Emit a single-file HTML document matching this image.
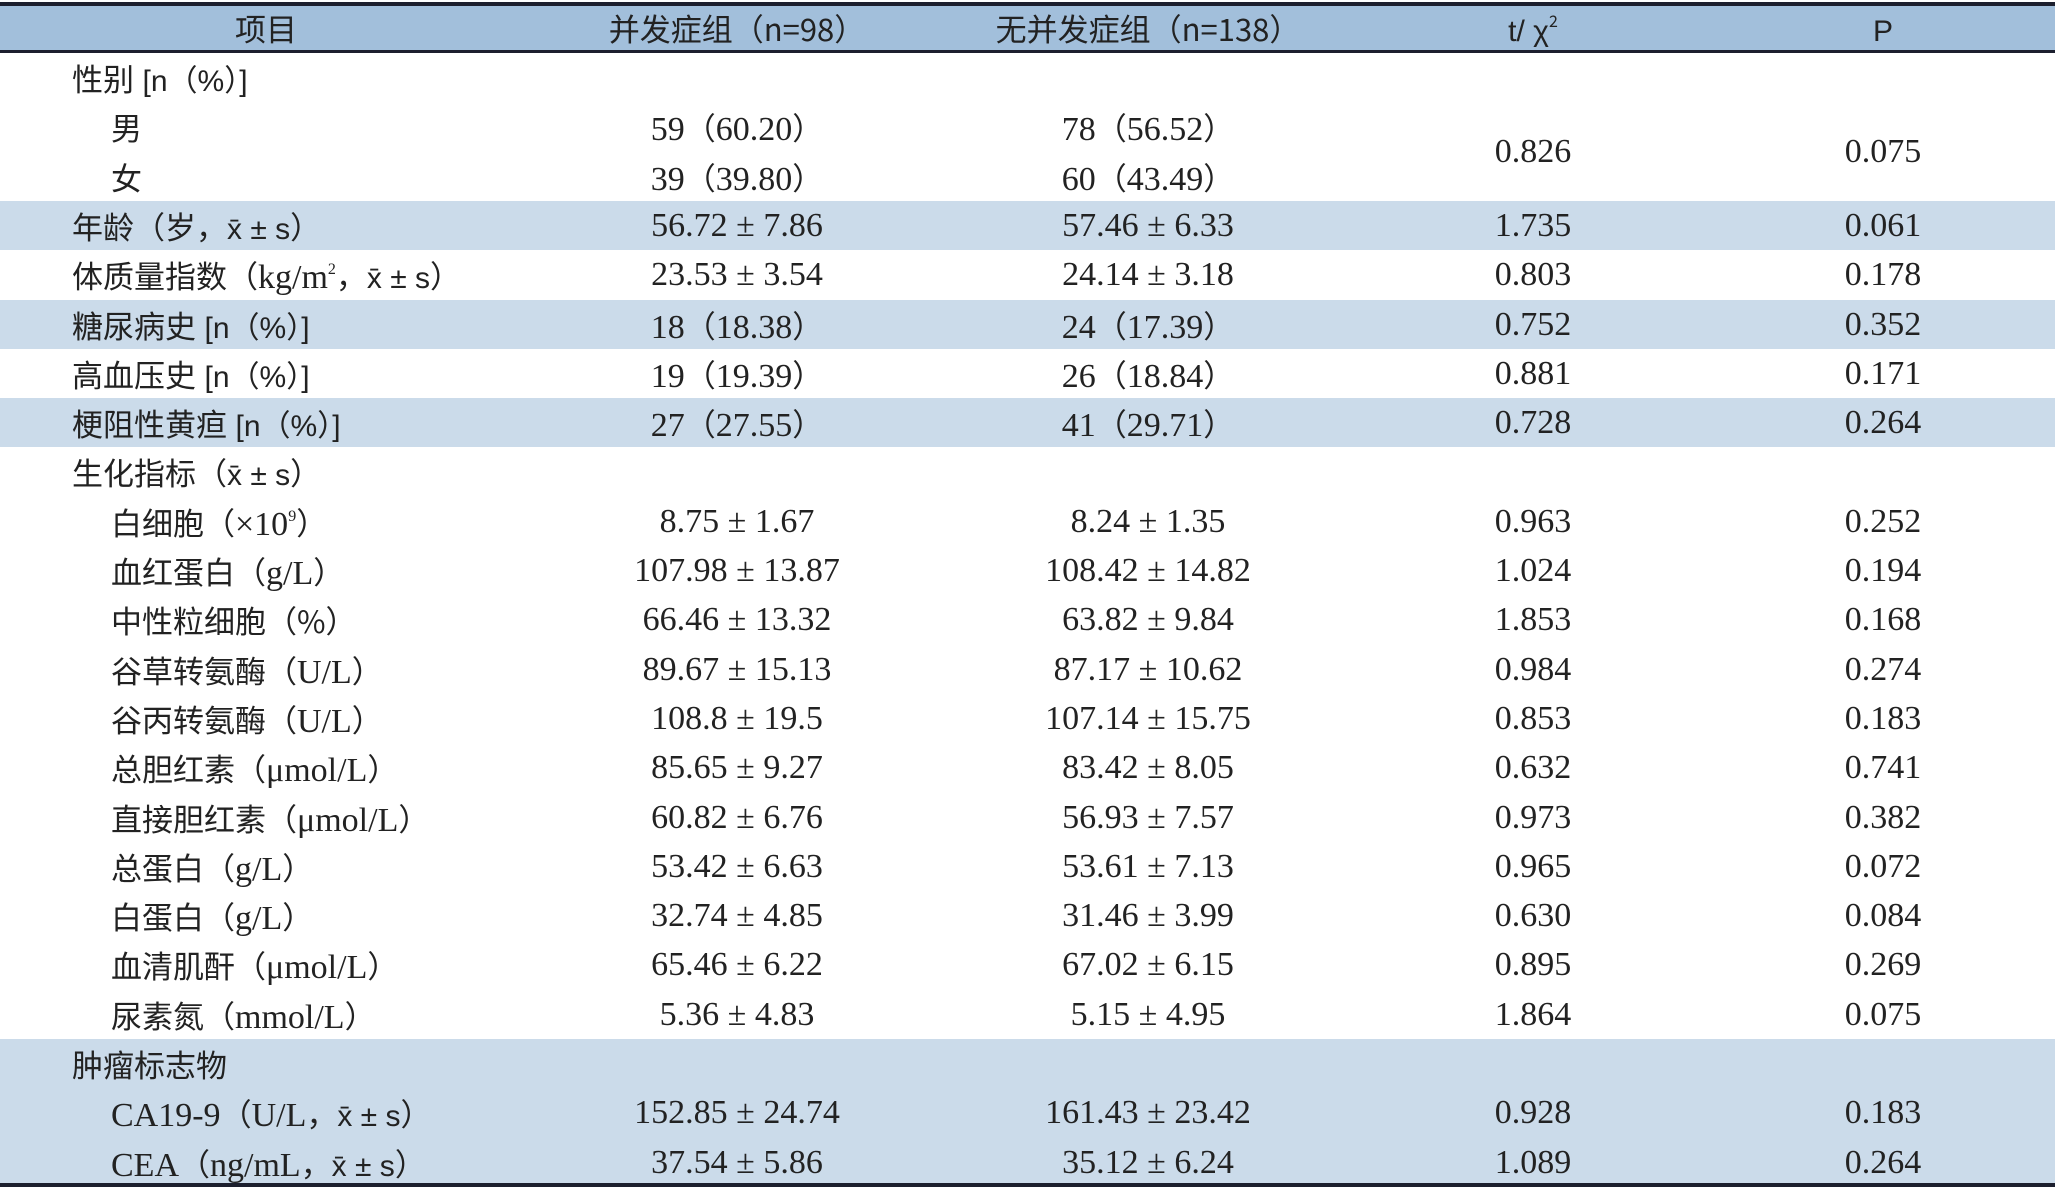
<!DOCTYPE html>
<html><head><meta charset="utf-8">
<style>
body{margin:0;width:2055px;height:1196px;background:#fff;overflow:hidden;font-family:"Liberation Serif","Noto Sans CJK SC",serif;color:#222;}
.t{position:absolute;left:0;top:0;width:2055px;}
.r{position:absolute;left:0;width:2055px;height:49.3px;}
.r.b{background:#cbdbea;}
.c{position:absolute;top:0;height:49.3px;line-height:49.3px;font-size:34px;white-space:nowrap;transform:translateX(-50%);}
.l{position:absolute;top:0;height:49.3px;line-height:49.3px;font-size:34px;white-space:nowrap;}
.cn{font-family:"Noto Sans CJK SC",sans-serif;font-size:31px;}
.s{font-family:"Liberation Sans",sans-serif;font-size:30px;}
sup{font-size:16px;vertical-align:14px;line-height:0;}
.hd{position:absolute;left:0;top:2px;width:2055px;height:51px;background:#a2bfdb;border-top:4px solid #1c1f2e;border-bottom:3px solid #1c1f2e;box-sizing:border-box;}
.hd .c{height:44px;line-height:44px;font-size:31px;font-family:"Noto Sans CJK SC",sans-serif;}
</style></head><body>
<div class="t">
<div class="hd">
<div class="c" style="left:266px">项目</div>
<div class="c" style="left:737px">并发症组（n=98）</div>
<div class="c" style="left:1148px">无并发症组（n=138）</div>
<div class="c" style="left:1533px"><span class="s">t/ χ</span><sup>2</sup></div>
<div class="c" style="left:1883px"><span class="s">P</span></div>
</div>
<div id="body"></div>
<div style="position:absolute;left:0;top:1183px;width:2055px;height:4px;background:#1c1f2e"></div>
</div>
<script>
const X='<span class="s">x̄ ± s</span>';
const labels=['<span class="cn">性别</span> <span class="s">[n（%）]</span>','<span class="cn">男</span>','<span class="cn">女</span>',
'<span class="cn">年龄（岁，</span>'+X+'<span class="cn">）</span>',
'<span class="cn">体质量指数（</span>kg/m<sup>2</sup><span class="cn">，</span>'+X+'<span class="cn">）</span>',
'<span class="cn">糖尿病史</span> <span class="s">[n（%）]</span>','<span class="cn">高血压史</span> <span class="s">[n（%）]</span>','<span class="cn">梗阻性黄疸</span> <span class="s">[n（%）]</span>',
'<span class="cn">生化指标（</span>'+X+'<span class="cn">）</span>',
'<span class="cn">白细胞（</span>×10<sup>9</sup><span class="cn">）</span>','<span class="cn">血红蛋白（</span>g/L<span class="cn">）</span>','<span class="cn">中性粒细胞（%）</span>',
'<span class="cn">谷草转氨酶（</span>U/L<span class="cn">）</span>','<span class="cn">谷丙转氨酶（</span>U/L<span class="cn">）</span>','<span class="cn">总胆红素（</span>μmol/L<span class="cn">）</span>',
'<span class="cn">直接胆红素（</span>μmol/L<span class="cn">）</span>','<span class="cn">总蛋白（</span>g/L<span class="cn">）</span>','<span class="cn">白蛋白（</span>g/L<span class="cn">）</span>',
'<span class="cn">血清肌酐（</span>μmol/L<span class="cn">）</span>','<span class="cn">尿素氮（</span>mmol/L<span class="cn">）</span>','<span class="cn">肿瘤标志物</span>',
'CA19-9<span class="cn">（</span>U/L<span class="cn">，</span>'+X+'<span class="cn">）</span>','CEA<span class="cn">（</span>ng/mL<span class="cn">，</span>'+X+'<span class="cn">）</span>'];
const indent=[0,1,1,0,0,0,0,0,0,1,1,1,1,1,1,1,1,1,1,1,0,1,1];
const banded=[0,0,0,1,0,1,0,1,0,0,0,0,0,0,0,0,0,0,0,0,1,1,1];
const comp=['','59（60.20）','39（39.80）','56.72 ± 7.86','23.53 ± 3.54','18（18.38）','19（19.39）','27（27.55）','','8.75 ± 1.67','107.98 ± 13.87','66.46 ± 13.32','89.67 ± 15.13','108.8 ± 19.5','85.65 ± 9.27','60.82 ± 6.76','53.42 ± 6.63','32.74 ± 4.85','65.46 ± 6.22','5.36 ± 4.83','','152.85 ± 24.74','37.54 ± 5.86'];
const noComp=['','78（56.52）','60（43.49）','57.46 ± 6.33','24.14 ± 3.18','24（17.39）','26（18.84）','41（29.71）','','8.24 ± 1.35','108.42 ± 14.82','63.82 ± 9.84','87.17 ± 10.62','107.14 ± 15.75','83.42 ± 8.05','56.93 ± 7.57','53.61 ± 7.13','31.46 ± 3.99','67.02 ± 6.15','5.15 ± 4.95','','161.43 ± 23.42','35.12 ± 6.24'];
const stat=['','0.826','','1.735','0.803','0.752','0.881','0.728','','0.963','1.024','1.853','0.984','0.853','0.632','0.973','0.965','0.630','0.895','1.864','','0.928','1.089'];
const pval=['','0.075','','0.061','0.178','0.352','0.171','0.264','','0.252','0.194','0.168','0.274','0.183','0.741','0.382','0.072','0.084','0.269','0.075','','0.183','0.264'];
const body=document.getElementById('body');
const top0=53,rh=49.3;
function fmt(s){return s.replace(/（/g,'<span class="cn">（</span>').replace(/）/g,'<span class="cn">）</span>');}
for(let i=0;i<labels.length;i++){
 const r=document.createElement('div');
 r.className='r'+(banded[i]?' b':'');
 r.style.top=(top0+i*rh)+'px';
 
 
 let h='<div class="l" style="left:'+(indent[i]?111:72)+'px">'+labels[i]+'</div>';
 h+='<div class="c" style="left:737px">'+fmt(comp[i])+'</div>';
 h+='<div class="c" style="left:1148px">'+fmt(noComp[i])+'</div>';
 const off=(i===1)?'top:24.6px;':'';
 h+='<div class="c" style="left:1533px;'+off+'">'+stat[i]+'</div>';
 h+='<div class="c" style="left:1883px;'+off+'">'+pval[i]+'</div>';
 r.innerHTML=h;
 body.appendChild(r);
}
</script>
</body></html>
